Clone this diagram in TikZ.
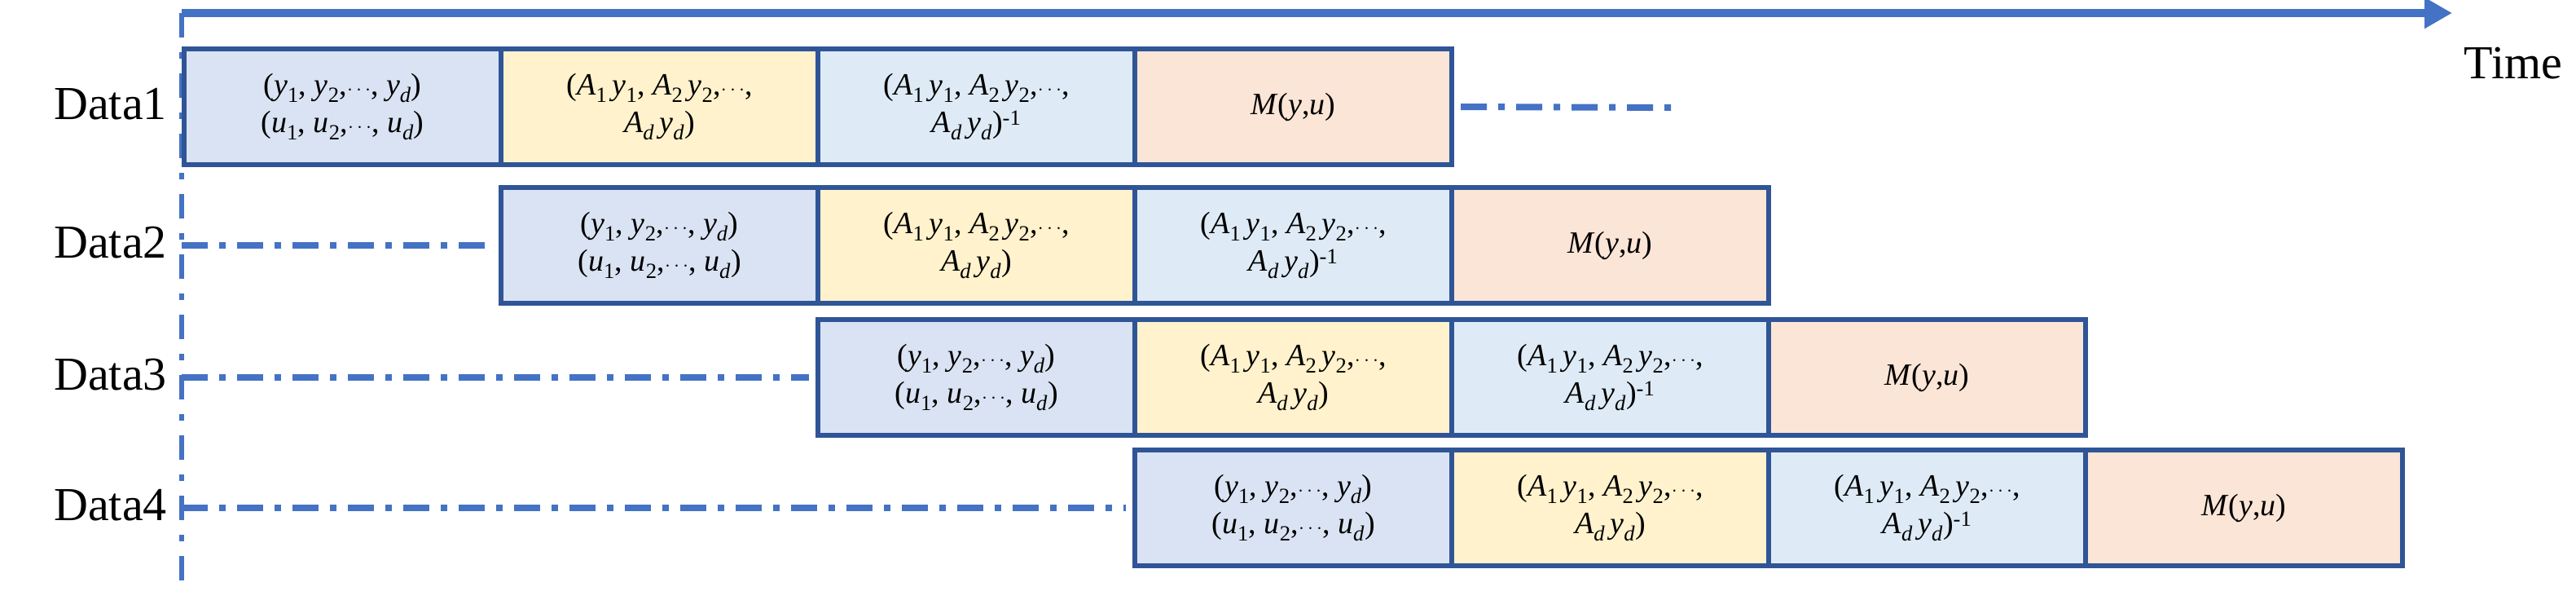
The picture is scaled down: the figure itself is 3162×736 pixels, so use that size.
\documentclass[tikz,border=0pt]{standalone}
\usepackage{fontspec}
\setmainfont{Liberation Serif}
\usetikzlibrary{arrows.meta}
\newcommand\vv[2]{\textit{#1}\textsubscript{#2}}
\newcommand\vd[1]{\textit{#1}\textsubscript{\textit{d}}}
\definecolor{bdr}{HTML}{2F5597}
\definecolor{ln}{HTML}{4472C4}
\definecolor{cA}{HTML}{DAE3F3}
\definecolor{cB}{HTML}{FFF2CC}
\definecolor{cC}{HTML}{DEEBF7}
\definecolor{cD}{HTML}{FBE5D6}
\tikzset{
 box/.style={draw=bdr,line width=6pt,minimum width=389pt,minimum height=142pt,inner sep=0pt,align=center,font=\fontsize{38}{46}\selectfont,anchor=north west},
 lab/.style={font=\fontsize{58}{60}\selectfont,inner sep=0pt},
 dd/.style={draw=ln,line width=8pt,dash pattern=on 32pt off 14pt on 8pt off 14pt}
}
\newcommand\tA{(\vv{y}{1}, \vv{y}{2},$\cdots$, \vd{y})\\(\vv{u}{1}, \vv{u}{2},$\cdots$, \vd{u})}
\newcommand\tB{(\vv{A}{1}\,\vv{y}{1}, \vv{A}{2}\,\vv{y}{2},$\cdots$,\\ \vd{A}\,\vd{y})}
\newcommand\tC{(\vv{A}{1}\,\vv{y}{1}, \vv{A}{2}\,\vv{y}{2},$\cdots$,\\ \vd{A}\,\vd{y})\textsuperscript{-1}}
\newcommand\tD{\textit{M}(\textit{y},\textit{u})}
\begin{document}
\begin{tikzpicture}[x=1pt,y=-1pt]
\useasboundingbox (0,0) rectangle (3162,736);
\coordinate (t0) at (223,16); \coordinate (t1) at (3010,16);
\draw[ln,line width=10pt,-{Triangle[length=34pt,width=36pt]}] (t0) -- (t1);
\node[lab] (time) at (3085,78) {Time};
\coordinate (v0) at (223,16); \coordinate (v1) at (223,722);
\draw[ln,line width=6pt,dash pattern=on 30pt off 18pt on 8pt off 18pt] (v0) -- (v1);
\foreach \r/\x/\y in {1/223/57,2/612/227,3/1001/389,4/1390/549}{
 \node[box,fill=cA] (a\r) at (\x,\y) {\tA};
 \node[box,fill=cB] (b\r) at (\x+389,\y) {\tB};
 \node[box,fill=cC] (c\r) at (\x+778,\y) {\tC};
 \node[box,fill=cD] (d\r) at (\x+1167,\y) {\tD};
 \node[lab,anchor=east] (l\r) at (205,\y+71) {Data\r};
}
\coordinate (e1) at (2052,132);
\draw[dd] (d1.east) ++(8,0) coordinate (s1) -- (e1);
\foreach \r in {2,3,4}{
 \coordinate (s\r) at (223,0 |- a\r.west);
 \draw[dd] (s\r) -- ([xshift=-8pt]a\r.west);
}
\end{tikzpicture}
\end{document}
